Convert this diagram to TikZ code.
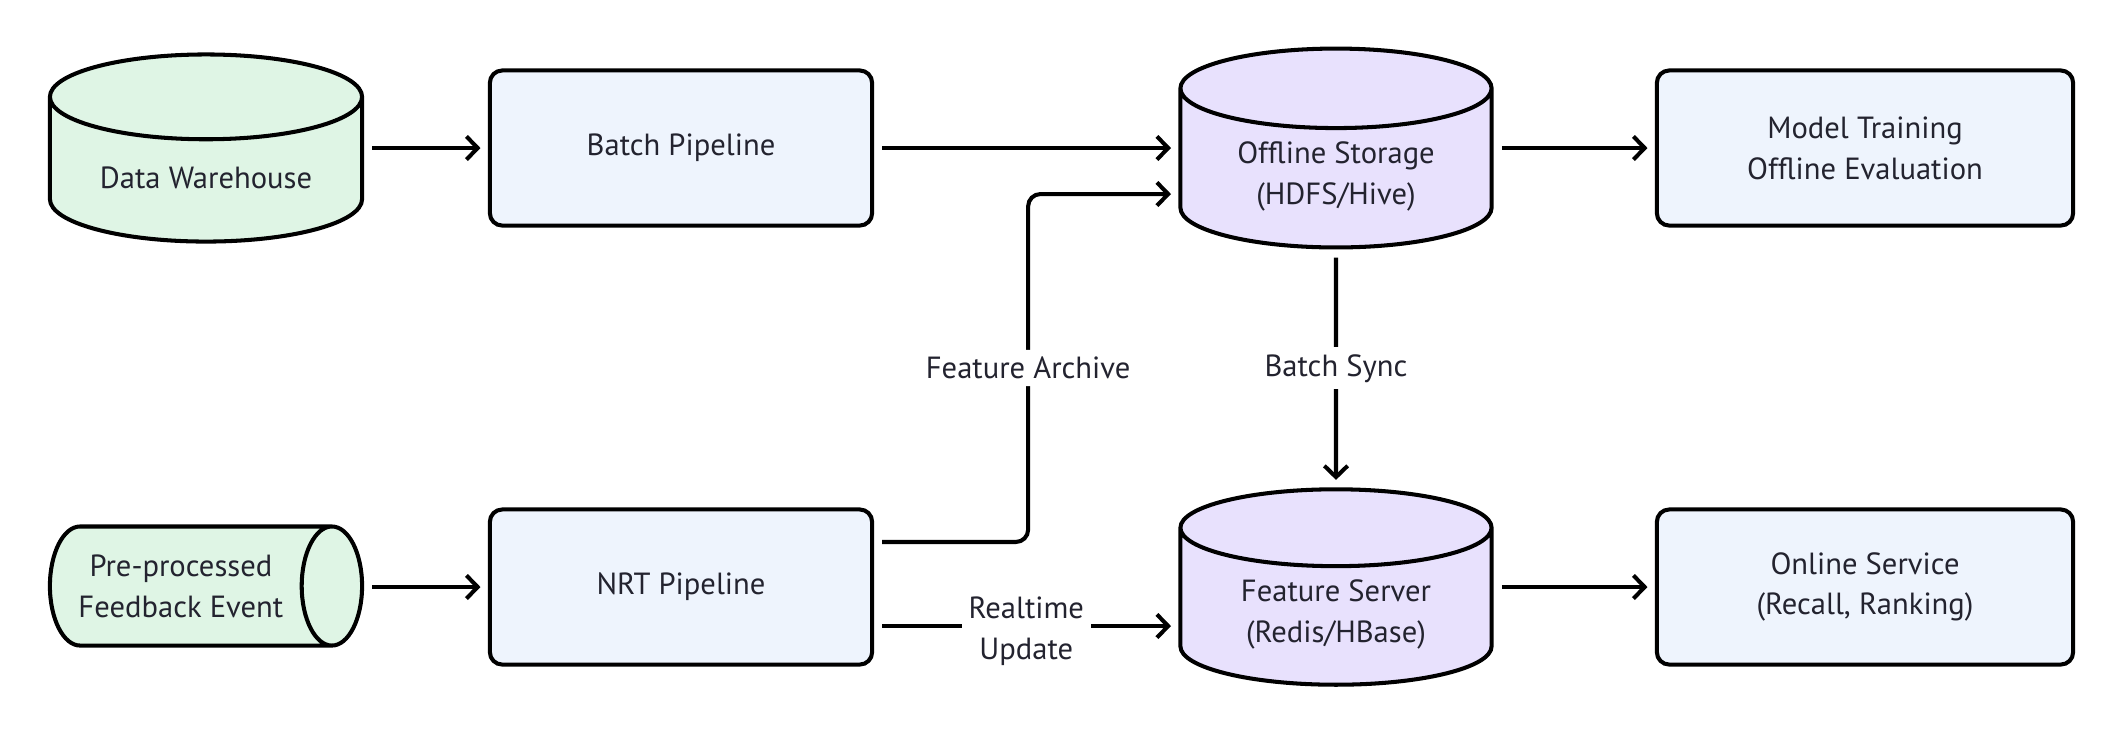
\documentclass[tikz,border=0pt]{standalone}
\usepackage{fontspec}
\setmainfont{PT Sans}
\usetikzlibrary{shapes.geometric,arrows.meta}
\definecolor{ink}{HTML}{23232F}
\definecolor{srcgreen}{HTML}{DFF5E5}
\definecolor{stepblue}{HTML}{EEF4FD}
\definecolor{storepurple}{HTML}{E8E1FD}
\tikzset{
  stage/.style={draw=black, line width=1.15pt, fill=stepblue, rounded corners=3.5pt,
    minimum width=3.82cm, minimum height=1.55cm, align=center, text=ink},
  store/.style={cylinder, draw=black, line width=1.15pt, cylinder uses custom fill,
    cylinder body fill=storepurple, cylinder end fill=storepurple,
    shape border rotate=90, aspect=0.36, minimum width=3.11cm, minimum height=1.95cm,
    align=center, text=ink, anchor=shape center},
  flow/.style={line width=1.15pt, -{Straight Barb[length=3.2pt,width=6.6pt,line width=1.15pt]},
    shorten <=2.3pt, shorten >=2.1pt},
  tag/.style={fill=white, align=center, text=ink, inner sep=2pt}
}
\begin{document}
\begin{tikzpicture}[x=0.01cm, y=-0.01cm, font=\fontsize{8.7}{11.6}\selectfont]
      \useasboundingbox (0,0) rectangle (2123,735);
      % sources
      \node[store, cylinder body fill=srcgreen, cylinder end fill=srcgreen,
        minimum height=1.87cm, minimum width=3.12cm] (dw) at (206,148) {Data Warehouse};
      \node[store, shape border rotate=0, aspect=0.7, inner xsep=1pt, cylinder body fill=srcgreen,
        cylinder end fill=srcgreen, minimum width=1.19cm, minimum height=3.12cm]
        (fb) at (206,586) {Pre-processed\\Feedback Event};
      % pipelines
      \node[stage] (batch) at (681,148) {Batch Pipeline};
      \node[stage] (nrt) at (681,587) {NRT Pipeline};
      % storage
      \node[store] (off) at (1336,148) {Offline Storage\\(HDFS/Hive)};
      \node[store] (fs) at (1336,587) {Feature Server\\(Redis/HBase)};
      % consumers
      \node[stage, minimum width=4.16cm] (model) at (1865,148) {Model Training\\Offline Evaluation};
      \node[stage, minimum width=4.16cm] (online) at (1865,587) {Online Service\\(Recall, Ranking)};
      % connectors
      \draw[flow] (dw.east |- batch.west) -- (batch.west);
      \draw[flow] (batch.east) -- (batch.east -| off.west);
      \draw[flow] (off.east |- model.west) -- (model.west);
      \draw[flow] (fb.east |- nrt.west) -- (nrt.west);
      \draw[flow] (fs.east |- online.west) -- (online.west);
      \draw[flow] (off.south) -- node[tag] {Batch Sync} (fs.north);
      \draw[flow] ([yshift=-0.39cm]nrt.east) -- node[tag, yshift=-0.05cm] {Realtime\\Update}
        ([yshift=-0.39cm]nrt.east -| fs.west);
      \draw[flow, rounded corners=3.5pt] ([yshift=0.45cm]nrt.east) -- ++(154,0)
        |- node[tag, pos=0.25] {Feature Archive} ([yshift=-0.46cm]batch.east -| off.west);
    \end{tikzpicture}
\end{document}
